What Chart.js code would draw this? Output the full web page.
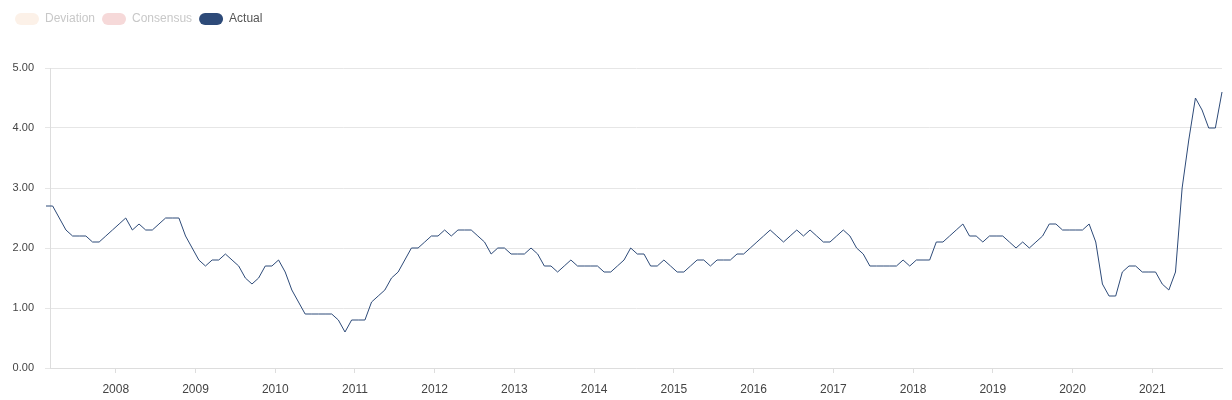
<!DOCTYPE html>
<html>
<head>
<meta charset="utf-8">
<title>Actual</title>
<script src="https://cdn.jsdelivr.net/npm/chart.js@4.4.0/dist/chart.umd.min.js"></script>
<style>
  html, body { margin: 0; padding: 0; background: #fff; }
  #wrap { width: 1232px; height: 400px; }
</style>
</head>
<body>
<div id="wrap"><canvas id="chart"></canvas></div>
<script>
// monthly values, Jan 2007 .. Oct 2021
var actual = [
  2.7, 2.7, 2.5, 2.3, 2.2, 2.2, 2.2, 2.1, 2.1, 2.2, 2.3, 2.4,
  2.5, 2.3, 2.4, 2.3, 2.3, 2.4, 2.5, 2.5, 2.5, 2.2, 2.0, 1.8,
  1.7, 1.8, 1.8, 1.9, 1.8, 1.7, 1.5, 1.4, 1.5, 1.7, 1.7, 1.8,
  1.6, 1.3, 1.1, 0.9, 0.9, 0.9, 0.9, 0.9, 0.8, 0.6, 0.8, 0.8,
  0.8, 1.1, 1.2, 1.3, 1.5, 1.6, 1.8, 2.0, 2.0, 2.1, 2.2, 2.2,
  2.3, 2.2, 2.3, 2.3, 2.3, 2.2, 2.1, 1.9, 2.0, 2.0, 1.9, 1.9,
  1.9, 2.0, 1.9, 1.7, 1.7, 1.6, 1.7, 1.8, 1.7, 1.7, 1.7, 1.7,
  1.6, 1.6, 1.7, 1.8, 2.0, 1.9, 1.9, 1.7, 1.7, 1.8, 1.7, 1.6,
  1.6, 1.7, 1.8, 1.8, 1.7, 1.8, 1.8, 1.8, 1.9, 1.9, 2.0, 2.1,
  2.2, 2.3, 2.2, 2.1, 2.2, 2.3, 2.2, 2.3, 2.2, 2.1, 2.1, 2.2,
  2.3, 2.2, 2.0, 1.9, 1.7, 1.7, 1.7, 1.7, 1.7, 1.8, 1.7, 1.8,
  1.8, 1.8, 2.1, 2.1, 2.2, 2.3, 2.4, 2.2, 2.2, 2.1, 2.2, 2.2,
  2.2, 2.1, 2.0, 2.1, 2.0, 2.1, 2.2, 2.4, 2.4, 2.3, 2.3, 2.3,
  2.3, 2.4, 2.1, 1.4, 1.2, 1.2, 1.6, 1.7, 1.7, 1.6, 1.6, 1.6,
  1.4, 1.3, 1.6, 3.0, 3.8, 4.5, 4.3, 4.0, 4.0, 4.6
];
var deviation = [];
var consensus = [];

var years = ['2008', '2009', '2010', '2011', '2012', '2013', '2014',
             '2015', '2016', '2017', '2018', '2019', '2020', '2021'];
var seriesNames = ['Deviation', 'Consensus', 'Actual'];
var seriesColors = ['#fcf1e8', '#f6d9d9', '#2d4a78'];
var legendTextColors = ['#c8c8c8', '#c8c8c8', '#555555'];

var FONT = 'Arial, "Liberation Sans", sans-serif';

// push the plot area down below the legend
var legendGap = {
  id: 'legendGap',
  beforeInit: function (chart) {
    var fit = chart.legend.fit;
    chart.legend.fit = function () {
      fit.bind(chart.legend)();
      this.height += 33;
    };
  }
};

var ctx = document.getElementById('chart').getContext('2d');
var chart = new Chart(ctx, {
  type: 'line',
  data: {
    datasets: [
      { label: seriesNames[0], data: deviation, backgroundColor: seriesColors[0], borderColor: seriesColors[0] },
      { label: seriesNames[1], data: consensus, backgroundColor: seriesColors[1], borderColor: seriesColors[1] },
      {
        label: seriesNames[2],
        data: actual.map(function (v, i) { return { x: i, y: v }; }),
        borderColor: seriesColors[2],
        backgroundColor: seriesColors[2],
        borderWidth: 1,
        pointRadius: 0,
        tension: 0,
        fill: false,
        clip: false
      }
    ]
  },
  options: {
    responsive: true,
    maintainAspectRatio: false,
    animation: false,
    layout: { padding: { left: 8, right: 10, top: 6, bottom: 0 } },
    plugins: {
      tooltip: { enabled: false },
      legend: {
        position: 'top',
        align: 'start',
        labels: {
          boxWidth: 24,
          boxHeight: 12,
          padding: 7,
          useBorderRadius: true,
          borderRadius: 6,
          font: { family: FONT, size: 12 },
          generateLabels: function (chart) {
            return chart.data.datasets.map(function (ds, i) {
              return {
                text: ds.label,
                fillStyle: seriesColors[i],
                strokeStyle: seriesColors[i],
                lineWidth: 0,
                fontColor: legendTextColors[i],
                borderRadius: 6,
                hidden: false,
                datasetIndex: i
              };
            });
          }
        }
      }
    },
    scales: {
      x: {
        type: 'linear',
        min: 0.6,
        max: actual.length - 1,
        afterFit: function (scale) { scale.height = 32; },
        afterBuildTicks: function (scale) {
          scale.ticks = years.map(function (y, i) { return { value: 10.5 + 12 * i }; });
        },
        ticks: {
          autoSkip: false,
          maxRotation: 0,
          padding: 9,
          color: '#444',
          font: { family: FONT, size: 12 },
          callback: function (value, index) { return years[index]; }
        },
        grid: {
          drawOnChartArea: false,
          tickLength: 5,
          color: '#dddddd'
        },
        border: { display: true, color: '#dddddd' }
      },
      y: {
        min: 0,
        max: 5,
        afterFit: function (scale) { scale.width = 42; },
        ticks: {
          stepSize: 1,
          padding: 11,
          color: '#444',
          font: { family: FONT, size: 11 },
          callback: function (value) { return value.toFixed(2); }
        },
        grid: {
          color: '#e6e6e6',
          tickLength: 5
        },
        border: { display: true, color: '#dddddd' }
      }
    }
  },
  plugins: [legendGap]
});
</script>
</body>
</html>
